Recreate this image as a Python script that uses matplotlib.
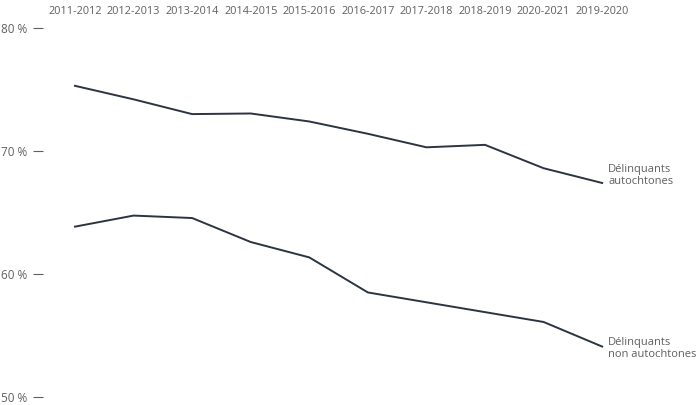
import matplotlib
matplotlib.use("Agg")
import matplotlib.pyplot as plt

plt.rcParams["font.family"] = ["Open Sans", "DejaVu Sans"]

periods = [
    "2011-2012", "2012-2013", "2013-2014", "2014-2015", "2015-2016",
    "2016-2017", "2017-2018", "2018-2019", "2020-2021", "2019-2020",
]
autochtones = [75.3, 74.2, 73.0, 73.05, 72.4, 71.4, 70.3, 70.5, 68.6, 67.4]
non_autochtones = [63.85, 64.75, 64.55, 62.6, 61.35, 58.5, 57.7, 56.9, 56.1, 54.1]
y_ticks = [50, 60, 70, 80]

LINE = "#2b3441"
TEXT = "#5f5f5f"

W, H = 700, 405
fig = plt.figure(figsize=(W / 100, H / 100), dpi=100)
left, right, top, bottom = 43, 700, 28, 397
ax = fig.add_axes([left / W, 1 - bottom / H, (right - left) / W, (bottom - top) / H])

x = list(range(len(periods)))
ax.plot(x, autochtones, color=LINE, lw=1.4, clip_on=False)
ax.plot(x, non_autochtones, color=LINE, lw=1.4, clip_on=False)

ax.text(x[-1] + 0.1, autochtones[-1] + 0.6, "Délinquants\nautochtones",
        color=TEXT, fontsize=8, ha="left", va="center", linespacing=1.2)
ax.text(x[-1] + 0.1, non_autochtones[-1] - 0.15, "Délinquants\nnon autochtones",
        color=TEXT, fontsize=8, ha="left", va="center", linespacing=1.2)

ax.set_xlim(-0.546, 10.67)
ax.set_ylim(50, 80)
ax.set_xticks(x)
ax.set_xticklabels(periods)
ax.xaxis.tick_top()
ax.tick_params(axis="x", length=0, pad=8, labelsize=7.8, colors=TEXT)
ax.set_yticks(y_ticks)
ax.set_yticklabels([f"{v} %" for v in y_ticks])
ax.tick_params(axis="y", length=7, width=0.8, direction="out", pad=4,
               labelsize=8.5, colors=TEXT)

for s in ax.spines.values():
    s.set_visible(False)

fig.savefig("out.png", dpi=100)
